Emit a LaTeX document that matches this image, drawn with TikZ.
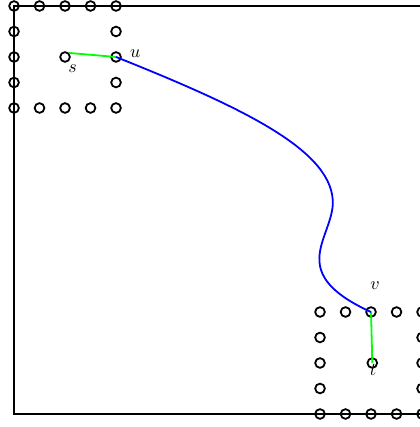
\documentclass[tikz,border=0pt]{standalone}
\usepackage{xcolor}
\usepackage{tikz}
\usetikzlibrary{positioning}

\begin{document}
\begin{tikzpicture}[
    x=0.5cm, y=0.5cm,
    dot/.style={circle, draw=black, line width=1pt, inner sep=0pt, minimum size=0.19cm},
    frame/.style={line width=1pt, draw=black},
    link/.style={line width=1pt, draw=green},
    route/.style={line width=1pt, draw=blue},
    lbl/.style={font=\normalsize, inner sep=0pt}
]
\useasboundingbox (-0.55,-0.51) rectangle (15.92,16.235);

% Top-left ring
\foreach \x in {0,...,4} {
    \node[dot] (tl-\x-16) at (\x,16) {};
    \node[dot] (tl-\x-12) at (\x,12) {};
}
\foreach \y in {13,14,15} \node[dot] (tl-0-\y) at (0,\y) {};
\foreach \y in {13,15} \node[dot] (tl-4-\y) at (4,\y) {};
\node[dot] (u) at (4,14) {};
\node[dot] (s) at (2,14) {};

% Bottom-right ring
\foreach \x in {12,13,15,16} \node[dot] (br-\x-4) at (\x,4) {};
\foreach \x in {12,...,16} \node[dot] (br-\x-0) at (\x,0) {};
\foreach \y in {1,2,3} {
    \node[dot] (br-12-\y) at (12,\y) {};
    \node[dot] (br-16-\y) at (16,\y) {};
}
\node[dot] (v) at (14,4) {};
\node[dot] (t) at (14.05,2) {};

% Outer frame
\draw[frame] (tl-0-16.center) rectangle (br-16-0.center);

% Links
\draw[link] (s.north east) -- (u.center);
\draw[link] (v.center) -- (t.center);

% Route from u to v
\coordinate (bend) at (12.5,8.2);
\draw[route] (u.center) .. controls (9,12) and (12.6,10.3) .. (bend)
    .. controls (12.4,6.8) and (10.7,5.5) .. (v.center);

% Labels
\node[lbl] (s-label) at (2.30,13.56) {$s$};
\node[lbl] (u-label) at (4.75,14.12) {$u$};
\node[lbl] (v-label) at (14.16,5.02) {$v$};
\node[lbl] (t-label) at (14.08,1.73) {$t$};

\end{tikzpicture}
\end{document}
